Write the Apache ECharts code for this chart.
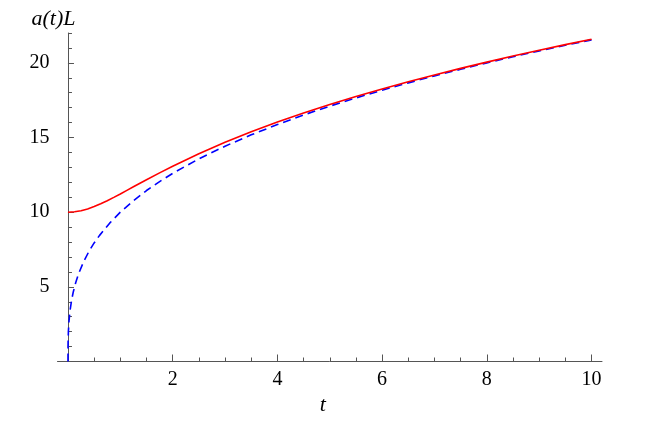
<!DOCTYPE html>
<html>
<head>
<meta charset="utf-8">
<script src="https://cdn.jsdelivr.net/npm/echarts@6/dist/echarts.min.js"></script>
<style>
  html, body { margin: 0; padding: 0; background: #fff; }
  #main { width: 649px; height: 422px; }
</style>
</head>
<body>
<div id="main"></div>
<script>
// 读图得到的数据
const tRed = [0, 0.125, 0.25, 0.375, 0.5, 0.625, 0.75, 0.875, 1, 1.125, 1.25, 1.375, 1.5, 1.75, 2, 2.5, 3, 3.5, 4, 4.5, 5, 5.5, 6, 6.5, 7, 7.5, 8, 8.5, 9, 9.5, 10];
const redValues = [10, 10.03, 10.1, 10.22, 10.38, 10.57, 10.77, 10.99, 11.22, 11.46, 11.7, 11.94, 12.17, 12.63, 13.08, 13.91, 14.68, 15.38, 16.04, 16.64, 17.21, 17.75, 18.25, 18.74, 19.19, 19.63, 20.05, 20.46, 20.84, 21.22, 21.58];

const tBlue = [0, 0.001, 0.003, 0.008, 0.02, 0.04, 0.07, 0.1, 0.15, 0.2, 0.3, 0.4, 0.5, 0.6, 0.8, 1, 1.25, 1.5, 1.75, 2, 2.5, 3, 3.5, 4, 4.5, 5, 5.5, 6, 6.5, 7, 7.5, 8, 8.5, 9, 9.5, 10];
const blueValues = [0, 1.0, 1.44, 2.0, 2.71, 3.42, 4.12, 4.64, 5.31, 5.85, 6.69, 7.37, 7.94, 8.43, 9.28, 10, 10.77, 11.45, 12.05, 12.6, 13.57, 14.42, 15.18, 15.87, 16.51, 17.1, 17.65, 18.17, 18.66, 19.13, 19.57, 20.0, 20.41, 20.8, 21.18, 21.54];

const xLabels = [2, 4, 6, 8, 10];
const xMinorTicks = [0.5, 1, 1.5, 2.5, 3, 3.5, 4.5, 5, 5.5, 6.5, 7, 7.5, 8.5, 9, 9.5];
const yLabels = [5, 10, 15, 20];

const font = "'Liberation Serif', 'DejaVu Serif', serif";
const axisColor = "#555";

let myChart = echarts.init(document.getElementById("main"));
myChart.setOption({
  animation: false,
  grid: { left: 57.5, right: 47, top: 33, bottom: 60.5 },
  xAxis: [
    {
      type: "value",
      min: -0.2,
      max: 10.2,
      name: "t",
      nameLocation: "middle",
      nameGap: 32,
      nameTextStyle: { fontFamily: font, fontStyle: "italic", fontSize: 22, color: "#000", padding: [0, 14, 0, 0] },
      axisLine: { onZero: true, lineStyle: { color: axisColor, width: 1 } },
      axisTick: { inside: true, length: 7, customValues: xLabels, lineStyle: { color: axisColor } },
      axisLabel: { customValues: xLabels, margin: 8, fontFamily: font, fontSize: 20, color: "#000" },
      splitLine: { show: false },
    },
    {
      // 小刻度
      type: "value",
      min: -0.2,
      max: 10.2,
      position: "bottom",
      axisLine: { show: false, onZero: false },
      axisTick: { inside: true, length: 4, customValues: xMinorTicks, lineStyle: { color: axisColor } },
      axisLabel: { show: false },
      splitLine: { show: false },
    },
  ],
  yAxis: [
    {
      type: "value",
      min: 0,
      max: 22,
      name: "a(t)L",
      nameLocation: "end",
      nameGap: 3,
      nameTextStyle: { fontFamily: font, fontStyle: "italic", fontSize: 22, color: "#000", align: "center", padding: [0, 29, 0, 0] },
      axisLine: { show: true, onZero: true, onZeroAxisIndex: 0, lineStyle: { color: axisColor, width: 1 } },
      axisTick: { inside: true, length: 6, customValues: yLabels, lineStyle: { color: axisColor } },
      axisLabel: { customValues: yLabels, margin: 8, fontFamily: font, fontSize: 20, color: "#000" },
      splitLine: { show: false },
    },
    {
      // 小刻度
      type: "value",
      min: 0,
      max: 22,
      interval: 1,
      position: "left",
      axisLine: { show: false, onZero: true, onZeroAxisIndex: 0 },
      axisTick: { show: true, inside: true, length: 4, lineStyle: { color: axisColor } },
      axisLabel: { show: false },
      splitLine: { show: false },
    },
  ],
  series: [
    {
      name: "blue",
      type: "line",
      showSymbol: false,
      data: tBlue.map((t, i) => [t, blueValues[i]]),
      lineStyle: { color: "#0000ff", width: 1.6, type: [8, 5] },
    },
    {
      name: "red",
      type: "line",
      showSymbol: false,
      data: tRed.map((t, i) => [t, redValues[i]]),
      lineStyle: { color: "#ff0000", width: 1.6 },
    },
  ],
});
</script>
</body>
</html>
